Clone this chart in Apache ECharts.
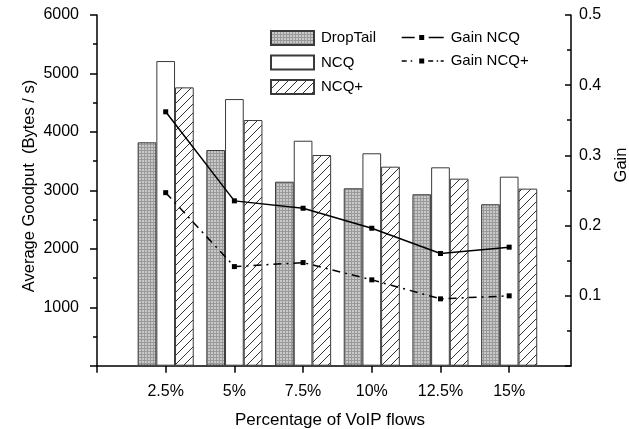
<!DOCTYPE html>
<html>
<head>
<meta charset="utf-8">
<script src="https://cdn.jsdelivr.net/npm/echarts@6/dist/echarts.min.js"></script>
<style>
  html, body { margin: 0; padding: 0; background: #fff; }
  #chart { width: 629px; height: 429px; }
</style>
</head>
<body>
<div id="chart"></div>
<script>
// Percentage of VoIP flows (x positions 1..6)
const categories = ['2.5%', '5%', '7.5%', '10%', '12.5%', '15%'];

// Average goodput (Bytes / s)
const dropTail = [3822, 3690, 3148, 3035, 2933, 2762];
const ncq      = [5212, 4562, 3849, 3634, 3394, 3234];
const ncqPlus  = [4762, 4203, 3605, 3405, 3200, 3029];

// Relative gain
const gainNcq     = [0.362, 0.235, 0.2245, 0.196, 0.160, 0.169];
const gainNcqPlus = [0.2467, 0.1413, 0.147, 0.1224, 0.0953, 0.0996];

// Axis tick labels
const goodputTicks = [1000, 2000, 3000, 4000, 5000, 6000];
const gainTicks = [0.1, 0.2, 0.3, 0.4, 0.5];

const FONT = "'Liberation Sans', Arial, sans-serif";

function makeGridPattern() {
  const c = document.createElement('canvas');
  c.width = 3; c.height = 3;
  const g = c.getContext('2d');
  g.fillStyle = '#c9c9c9';
  g.fillRect(0, 0, 3, 3);
  g.fillStyle = '#9a9a9a';
  g.fillRect(0, 0, 3, 1);
  g.fillRect(0, 0, 1, 3);
  return c;
}

function makeHatchPattern() {
  const n = 9;
  const c = document.createElement('canvas');
  c.width = n; c.height = n;
  const g = c.getContext('2d');
  g.fillStyle = '#ffffff';
  g.fillRect(0, 0, n, n);
  g.strokeStyle = '#333333';
  g.lineWidth = 1;
  g.beginPath();
  g.moveTo(0, n); g.lineTo(n, 0);
  g.moveTo(-1, 1); g.lineTo(1, -1);
  g.moveTo(n - 1, n + 1); g.lineTo(n + 1, n - 1);
  g.stroke();
  return c;
}

// Legend glyphs for the two gain curves: dash pattern with a small square marker
const solidKeyIcon = 'path://M0,1.75H13V3.25H0Z M17.5,0H22.5V5H17.5Z M27,1.75H42V3.25H27Z';
const dashDotKeyIcon = 'path://M0,1.75H5V3.25H0Z M9,1.75H10.5V3.25H9Z M17.5,0H22.5V5H17.5Z M26.5,1.75H31.5V3.25H26.5Z M35,1.75H36.5V3.25H35Z M39,1.75H42V3.25H39Z';

const xy = arr => arr.map((v, i) => [i + 1, v]);

const barWidth = 18.7;
const barBorder = { borderColor: '#3a3a3a', borderWidth: 1 };

const chart = echarts.init(document.getElementById('chart'), null, { renderer: 'canvas' });

chart.setOption({
  animation: false,
  backgroundColor: '#ffffff',
  textStyle: { fontFamily: FONT, color: '#000' },
  grid: {
    left: 97, right: 58, top: 15, bottom: 63.3,
    containLabel: false, outerBoundsMode: 'none'
  },
  xAxis: {
    type: 'value',
    min: 0, max: 6.9,
    interval: 1,
    axisLine: { lineStyle: { color: '#000', width: 1.5 } },
    axisTick: {
      show: true, inside: false, length: 7,
      customValues: [0, 1, 2, 3, 4, 5, 6],
      lineStyle: { color: '#000', width: 1.5 }
    },
    axisLabel: {
      customValues: [1, 2, 3, 4, 5, 6],
      formatter: v => categories[Math.round(v) - 1] || '',
      fontFamily: FONT, fontSize: 16, color: '#000', margin: 18
    },
    splitLine: { show: false }
  },
  yAxis: [
    {
      type: 'value', min: 0, max: 6000, interval: 1000,
      position: 'left',
      axisLine: { show: true, lineStyle: { color: '#000', width: 1.5 } },
      axisTick: { show: true, inside: false, length: 7, lineStyle: { color: '#000', width: 1.5 } },
      minorTick: { show: true, splitNumber: 2, length: 4, lineStyle: { color: '#000', width: 1.5 } },
      axisLabel: {
        customValues: goodputTicks,
        formatter: v => String(v),
        fontFamily: FONT, fontSize: 16, color: '#000', margin: 18
      },
      splitLine: { show: false }
    },
    {
      type: 'value', min: 0, max: 0.5, interval: 0.1,
      position: 'right',
      axisLine: { show: true, lineStyle: { color: '#000', width: 1.5 } },
      axisTick: { show: true, inside: true, length: 6, lineStyle: { color: '#000', width: 1.5 } },
      minorTick: { show: true, splitNumber: 2, length: 4, lineStyle: { color: '#000', width: 1.5 } },
      axisLabel: {
        customValues: gainTicks,
        formatter: v => v.toFixed(1),
        fontFamily: FONT, fontSize: 16, color: '#000', margin: 8
      },
      splitLine: { show: false }
    }
  ],
  legend: [
    {
      data: ['DropTail', 'NCQ', 'NCQ+'],
      icon: 'rect',
      orient: 'vertical',
      left: 270, top: 30, padding: 0,
      itemWidth: 43, itemHeight: 14, itemGap: 8.5,
      textStyle: { fontFamily: FONT, fontSize: 15, color: '#000', lineHeight: 14, padding: [0, 0, 0, 2] }
    },
    {
      data: [
        { name: 'Gain NCQ', icon: solidKeyIcon },
        { name: 'Gain NCQ+', icon: dashDotKeyIcon }
      ],
      orient: 'vertical',
      left: 401.7, top: 30, padding: 0,
      itemWidth: 42, itemHeight: 14, itemGap: 8.5,
      symbolKeepAspect: true,
      itemStyle: { color: '#000', borderWidth: 0 },
      lineStyle: { width: 0 },
      textStyle: { fontFamily: FONT, fontSize: 15, color: '#000', lineHeight: 14, padding: [0, 0, 0, 2] }
    }
  ],
  graphic: [
    {
      type: 'text', x: 29.5, y: 186, rotation: Math.PI / 2,
      style: {
        text: 'Average Goodput  (Bytes / s)', font: '16.5px ' + FONT,
        fill: '#000', align: 'center', verticalAlign: 'middle'
      }
    },
    {
      type: 'text', x: 330, y: 420,
      style: {
        text: 'Percentage of VoIP flows', font: '17px ' + FONT,
        fill: '#000', align: 'center', verticalAlign: 'middle'
      }
    },
    {
      type: 'text', x: 621, y: 165, rotation: Math.PI / 2,
      style: {
        text: 'Gain', font: '16.5px ' + FONT,
        fill: '#000', align: 'center', verticalAlign: 'middle'
      }
    }
  ],
  series: [
    {
      name: 'DropTail', type: 'bar', data: xy(dropTail),
      barWidth: barWidth, barGap: '0%',
      itemStyle: Object.assign({ color: { image: makeGridPattern(), repeat: 'repeat' } }, barBorder)
    },
    {
      name: 'NCQ', type: 'bar', data: xy(ncq),
      barWidth: barWidth, barGap: '0%',
      itemStyle: Object.assign({ color: '#ffffff' }, barBorder)
    },
    {
      name: 'NCQ+', type: 'bar', data: xy(ncqPlus),
      barWidth: barWidth, barGap: '0%',
      itemStyle: Object.assign({ color: { image: makeHatchPattern(), repeat: 'repeat' } }, barBorder)
    },
    {
      name: 'Gain NCQ', type: 'line', yAxisIndex: 1, data: xy(gainNcq),
      symbol: 'rect', symbolSize: 5, showSymbol: true,
      lineStyle: { color: '#000', width: 1.5, type: 'solid' },
      itemStyle: { color: '#000' },
      z: 5
    },
    {
      name: 'Gain NCQ+', type: 'line', yAxisIndex: 1, data: xy(gainNcqPlus),
      symbol: 'rect', symbolSize: 5, showSymbol: true,
      lineStyle: { color: '#000', width: 1.5, type: [8, 5, 2, 5] },
      itemStyle: { color: '#000' },
      z: 5
    }
  ]
});
</script>
</body>
</html>
